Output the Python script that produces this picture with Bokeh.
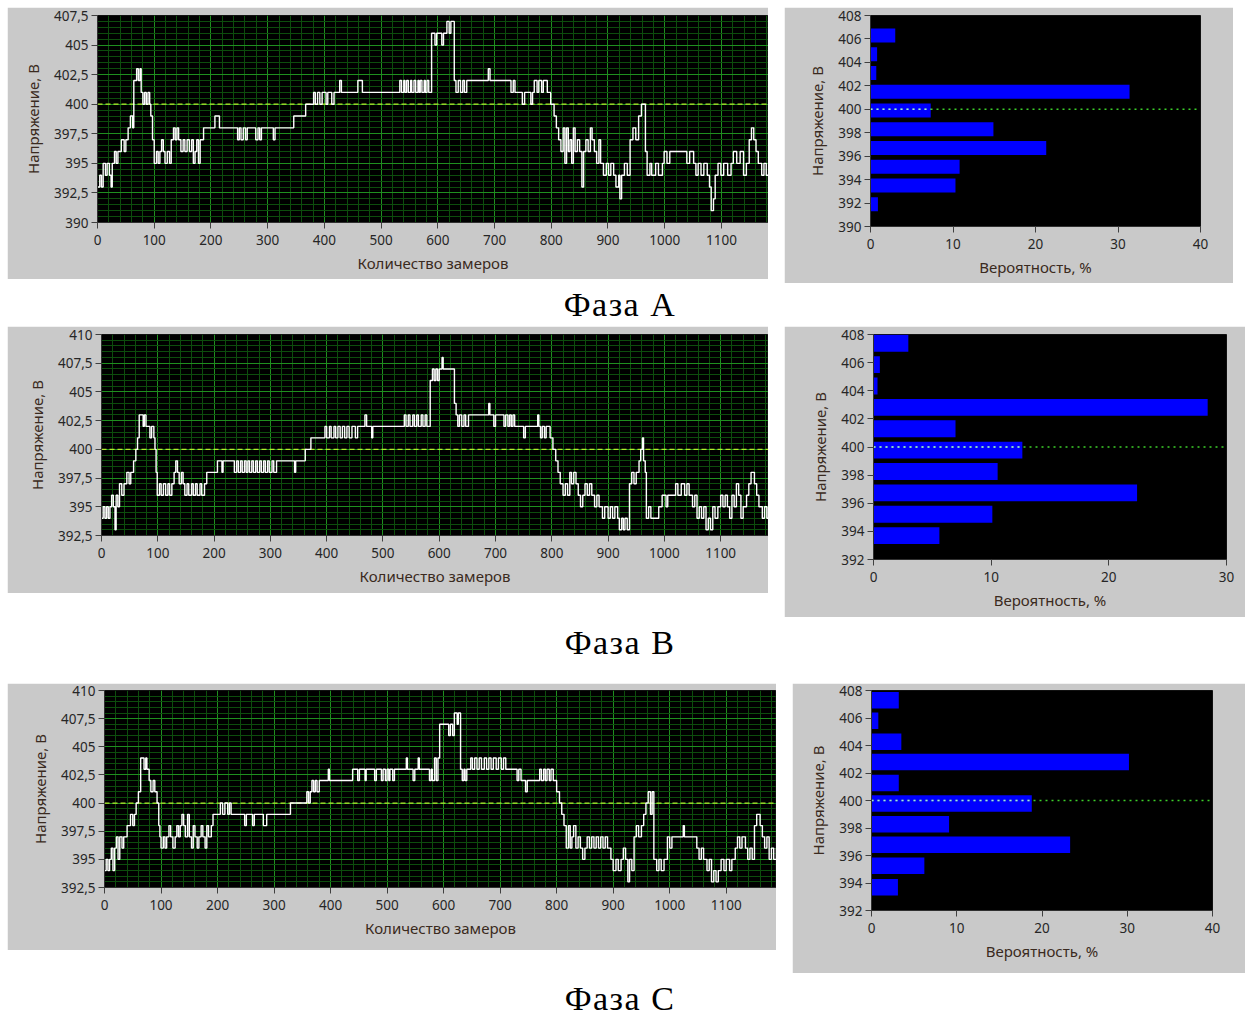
import numpy as np
from bokeh.plotting import figure
from bokeh.models import Range1d, FixedTicker, ColumnDataSource, Div, Spacer
from bokeh.layouts import column, row
from bokeh.embed import file_html
from bokeh.resources import INLINE

# ---------------- data ----------------
# step series: (sample number, voltage level)
A_STEPS = [(0,393),(4,394),(7,393),(10,395),(14,394),(17,395),(21,394),(24,393),(26,395),(30,396),
           (33,395),(36,396),(42,397),(47,396),(50,397),(54,398),(58,399),(62,398),(64,402),(69,403),
           (72,402),(75,403),(77,401),(80,400),(83,401),(86,400),(89,401),(92,400),(94,399),(97,397),
           (100,395),(104,396),(107,395),(110,396),(113,397),(116,396),(119,395),(123,396),(127,395),(130,397),
           (134,398),(137,397),(140,398),(143,397),(147,396),(151,397),(154,396),(158,397),(162,396),(166,397),
           (169,395),(172,396),(175,397),(178,395),(181,397),(187,398),(207,399),(215,398),(247,397),(250,398),
           (253,397),(257,398),(261,397),(264,398),(279,397),(283,398),(286,397),(289,398),(310,397),(313,398),
           (346,399),(367,400),(381,401),(384,400),(388,401),(392,400),(396,401),(403,400),(406,401),(413,400),
           (417,401),(427,402),(430,401),(459,402),(467,401),(533,402),(536,401),(540,402),(542,401),(545,402),
           (548,401),(552,402),(554,401),(558,402),(561,401),(565,402),(567,401),(569,402),(572,401),(576,402),
           (578,401),(581,402),(584,401),(589,406),(595,405),(598,406),(607,405),(610,406),(616,407),(620,406),
           (623,407),(629,402),(632,401),(636,402),(640,401),(644,402),(647,401),(651,402),(689,403),(692,402),
           (729,401),(733,402),(736,401),(749,400),(753,401),(764,400),(767,401),(770,402),(775,401),(778,402),
           (783,401),(786,402),(793,401),(799,400),(805,399),(809,398),(813,397),(817,396),(821,398),(824,395),
           (827,398),(830,396),(833,397),(836,395),(839,398),(842,396),(846,397),(850,396),(854,393),(857,396),
           (861,397),(865,396),(869,398),(872,397),(876,396),(880,395),(884,397),(887,395),(892,394),(897,395),
           (901,394),(905,395),(910,394),(914,393),(919,394),(921,392),(924,394),(929,395),(934,394),(939,397),
           (944,398),(949,397),(954,399),(959,400),(966,396),(969,394),(974,395),(977,394),(984,395),(989,394),
           (996,395),(999,396),(1004,395),(1009,396),(1039,395),(1044,396),(1051,395),(1055,394),(1059,395),(1064,394),
           (1069,395),(1075,394),(1079,393),(1082,391),(1086,392),(1089,394),(1094,395),(1099,394),(1104,395),(1111,394),
           (1117,395),(1121,396),(1127,395),(1133,396),(1139,394),(1144,395),(1149,397),(1153,398),(1157,397),(1161,396),
           (1165,395),(1171,394),(1175,395),(1179,394),(1185,394)]

B_STEPS = [(0,394),(3,395),(6,394),(9,395),(12,394),(15,395),(18,396),(21,395),(24,393),(26,396),
           (29,395),(32,397),(36,396),(40,397),(45,398),(49,397),(52,398),(57,399),(61,400),(64,401),
           (67,403),(74,402),(76,403),(79,402),(86,401),(89,402),(93,401),(95,400),(97,398),(99,396),
           (103,397),(106,396),(110,397),(114,396),(118,397),(121,396),(125,397),(129,398),(132,399),(135,398),
           (138,397),(142,398),(145,397),(148,396),(152,397),(155,396),(160,397),(163,396),(167,397),(170,396),
           (175,397),(178,396),(183,397),(187,398),(206,399),(214,398),(216,399),(236,398),(240,399),(243,398),
           (247,399),(250,398),(254,399),(257,398),(260,399),(263,398),(267,399),(270,398),(274,399),(277,398),
           (281,399),(284,398),(288,399),(291,398),(295,399),(298,398),(303,399),(306,398),(311,399),(343,398),
           (345,399),(362,400),(372,401),(397,402),(400,401),(405,402),(408,401),(413,402),(416,401),(420,402),
           (424,401),(428,402),(432,401),(436,402),(440,401),(445,402),(451,401),(455,402),(468,403),(471,402),
           (480,401),(482,402),(538,403),(541,402),(545,403),(548,402),(553,403),(556,402),(560,403),(563,402),
           (568,403),(571,402),(575,403),(578,402),(584,406),(588,407),(591,406),(594,407),(597,406),(600,407),
           (605,408),(607,407),(627,404),(630,403),(633,402),(636,403),(640,402),(644,403),(647,402),(652,403),
           (688,404),(690,403),(697,402),(700,403),(715,402),(718,403),(722,402),(725,403),(728,402),(731,403),
           (734,402),(750,401),(753,402),(775,403),(777,402),(780,401),(783,402),(787,401),(790,402),(797,401),
           (802,400),(807,399),(811,398),(815,397),(820,396),(824,397),(828,396),(832,398),(835,397),(839,398),
           (843,397),(847,396),(851,395),(855,396),(859,397),(863,396),(867,397),(871,396),(876,395),(880,396),
           (884,395),(890,394),(894,395),(900,394),(904,395),(908,394),(912,395),(917,394),(920,393),(924,394),
           (927,393),(930,394),(934,393),(938,397),(942,398),(946,397),(950,398),(955,399),(958,400),(961,401),
           (963,399),(966,398),(968,394),(972,395),(976,394),(990,395),(996,396),(1003,395),(1006,396),(1020,397),
           (1024,396),(1030,397),(1036,396),(1040,397),(1044,396),(1050,395),(1054,396),(1058,394),(1062,395),(1066,394),
           (1070,395),(1074,393),(1078,394),(1082,393),(1086,395),(1090,394),(1095,395),(1100,396),(1104,395),(1108,396),
           (1112,395),(1116,394),(1120,396),(1124,395),(1128,397),(1132,396),(1136,394),(1140,395),(1146,396),(1150,397),
           (1154,398),(1160,397),(1164,396),(1168,395),(1174,394),(1178,395),(1182,394),(1185,395)]

C_STEPS = [(0,394),(3,395),(6,394),(9,395),(12,396),(15,394),(18,396),(21,397),(24,395),(27,397),
           (31,396),(34,397),(40,398),(46,399),(50,398),(53,399),(56,400),(60,401),(64,404),(70,403),
           (73,404),(75,403),(79,402),(82,401),(86,402),(89,401),(93,400),(96,398),(98,397),(100,396),
           (104,397),(107,396),(110,397),(114,398),(117,397),(121,396),(125,397),(128,398),(131,397),(134,398),
           (137,399),(140,398),(143,397),(147,399),(150,397),(154,396),(157,398),(160,397),(164,396),(167,397),
           (171,398),(174,397),(178,396),(181,398),(184,397),(189,398),(192,399),(205,400),(209,399),(213,400),
           (218,399),(221,400),(224,399),(248,398),(251,399),(262,398),(265,399),(281,398),(287,399),(329,400),
           (358,401),(361,400),(364,401),(367,402),(370,401),(373,402),(376,401),(380,402),(396,403),(398,402),
           (439,403),(448,402),(451,403),(461,402),(463,403),(478,402),(481,403),(490,402),(493,403),(497,402),
           (500,403),(503,402),(505,403),(510,402),(513,403),(534,404),(536,403),(546,402),(549,403),(555,404),
           (557,403),(575,402),(578,403),(580,402),(584,404),(587,402),(590,404),(593,407),(609,406),(612,407),
           (616,406),(619,408),(624,407),(626,408),(630,403),(633,402),(636,403),(638,402),(641,403),(648,404),
           (651,403),(655,404),(659,403),(663,404),(667,403),(672,404),(676,403),(680,404),(684,403),(688,404),
           (693,403),(697,404),(702,403),(706,404),(710,403),(730,402),(733,403),(737,402),(745,401),(748,402),
           (770,403),(773,402),(777,403),(780,402),(783,403),(787,402),(790,403),(794,402),(800,401),(805,400),
           (809,399),(813,398),(817,396),(821,398),(824,396),(827,397),(830,398),(834,396),(838,397),(842,396),
           (846,395),(850,396),(854,397),(858,396),(862,397),(866,396),(870,397),(874,396),(878,397),(882,396),
           (886,397),(890,396),(896,395),(900,394),(905,395),(909,394),(914,395),(918,396),(922,395),(926,393),
           (929,395),(933,394),(937,397),(941,398),(945,397),(950,398),(954,399),(958,400),(962,401),(966,399),
           (969,401),(972,395),(977,394),(981,395),(985,394),(990,395),(996,397),(1000,396),(1004,397),(1024,398),
           (1026,397),(1048,396),(1052,395),(1056,396),(1060,395),(1066,394),(1070,395),(1074,393),(1078,394),(1082,393),
           (1086,394),(1091,395),(1096,394),(1100,395),(1106,394),(1110,395),(1116,396),(1120,397),(1124,396),(1128,397),
           (1134,396),(1138,395),(1142,396),(1146,395),(1150,398),(1154,399),(1160,398),(1164,397),(1168,396),(1172,397),
           (1176,395),(1180,396),(1184,395),(1189,396)]

# histograms: bin centre voltage and probability, %
A_HIST_V = [391.9, 393.5, 395.1, 396.7, 398.3, 399.9, 401.5, 403.1, 404.7, 406.3]
A_HIST_P = [0.9, 10.3, 10.8, 21.3, 14.9, 7.3, 31.4, 0.7, 0.8, 3.0]
B_HIST_V = [393.7, 395.22, 396.74, 398.26, 399.78, 401.3, 402.82, 404.34, 405.86, 407.38]
B_HIST_P = [5.6, 10.1, 22.4, 10.55, 12.65, 6.97, 28.4, 0.34, 0.54, 2.96]
C_HIST_V = [393.7, 395.26, 396.78, 398.28, 399.78, 401.28, 402.8, 404.27, 405.8, 407.29]
C_HIST_P = [3.1, 6.2, 23.3, 9.1, 18.8, 3.2, 30.2, 3.5, 0.8, 3.2]

NOMINAL = 400

X_TICKS = [0, 100, 200, 300, 400, 500, 600, 700, 800, 900, 1000, 1100, 1200]
X_LABELS = ["0", "100", "200", "300", "400", "500", "600", "700", "800", "900", "1000", "1100", "1200"]
A_Y_TICKS = [390, 392.5, 395, 397.5, 400, 402.5, 405, 407.5]
A_Y_LABELS = ["390", "392,5", "395", "397,5", "400", "402,5", "405", "407,5"]
BC_Y_TICKS = [392.5, 395, 397.5, 400, 402.5, 405, 407.5, 410]
BC_Y_LABELS = ["392,5", "395", "397,5", "400", "402,5", "405", "407,5", "410"]
HA_Y_TICKS = [390, 392, 394, 396, 398, 400, 402, 404, 406, 408]
HBC_Y_TICKS = [392, 394, 396, 398, 400, 402, 404, 406, 408]
H40_X_TICKS = [0, 10, 20, 30, 40]
H30_X_TICKS = [0, 10, 20, 30]

Y_TITLE = "Напряжение, В"
X_TITLE_LINE = "Количество замеров"
X_TITLE_HIST = "Вероятность, %"
CAPTIONS = ["Фаза A", "Фаза B", "Фаза C"]

# ---------------- styling ----------------
GRAY = "#c9c9c9"
MAJOR = "#1f8f1f"
MINOR = "#0d4d0d"
FONT = "Noto Sans"
TICK_COLOR = "#262626"
TITLE_COLOR = "#3a2a20"


def style_axes(p, xticks, yticks, xminor=(), yminor=(), xlabels=None, ylabels=None):
    p.xaxis.ticker = FixedTicker(ticks=list(xticks), minor_ticks=list(xminor))
    p.yaxis.ticker = FixedTicker(ticks=list(yticks), minor_ticks=list(yminor))
    xlabels = xlabels or [str(t) for t in xticks]
    ylabels = ylabels or [str(t) for t in yticks]
    p.xaxis.major_label_overrides = {float(t): l for t, l in zip(xticks, xlabels)}
    p.yaxis.major_label_overrides = {float(t): l for t, l in zip(yticks, ylabels)}
    for ax in list(p.xaxis) + list(p.yaxis):
        ax.major_label_text_font = FONT
        ax.major_label_text_font_size = "13.5px"
        ax.major_label_text_color = TICK_COLOR
        ax.axis_label_text_font = FONT
        ax.axis_label_text_font_size = "15px"
        ax.axis_label_text_font_style = "normal"
        ax.axis_label_text_color = TITLE_COLOR
        ax.axis_line_color = "#303030"
        ax.major_tick_line_color = "#404040"
        ax.minor_tick_line_color = None
        ax.major_tick_in = 0
        ax.major_tick_out = 6
    p.xaxis.major_label_standoff = 6
    p.yaxis.major_label_standoff = 3
    p.xaxis.axis_label_standoff = 5
    p.yaxis.axis_label_standoff = 8


def line_panel(steps, xmax, ylo, yhi, yticks, ylabels, w, h, bl, bt, bb):
    xs = [s[0] for s in steps]
    vs = [s[1] for s in steps]
    p = figure(width=w, height=h, x_range=Range1d(0, xmax), y_range=Range1d(ylo, yhi),
               output_backend="svg", toolbar_location=None,
               min_border_left=bl, min_border_right=0, min_border_top=bt, min_border_bottom=bb)
    p.background_fill_color = "black"
    p.border_fill_color = GRAY
    p.outline_line_color = "#111111"
    style_axes(p, X_TICKS, yticks, np.arange(0, 1201, 20), np.arange(ylo, yhi + 0.01, 0.5),
               X_LABELS, ylabels)
    p.xgrid.grid_line_color = MAJOR
    p.ygrid.grid_line_color = MAJOR
    p.xgrid.minor_grid_line_color = MINOR
    p.ygrid.minor_grid_line_color = MINOR
    p.xaxis.axis_label = X_TITLE_LINE
    p.yaxis.axis_label = Y_TITLE
    p.line(x=[0, xmax], y=[NOMINAL, NOMINAL], line_color="#b4ec2c", line_dash="5 3", line_width=1.3)
    p.step(x=xs, y=vs, mode="after", line_color="white", line_width=1.4)
    return p


def hist_panel(hv, hp, xmax, ylo, yhi, yticks, xticks, w, h, bl, br, bt, bb):
    p = figure(width=w, height=h, x_range=Range1d(0, xmax), y_range=Range1d(ylo, yhi),
               output_backend="svg", toolbar_location=None,
               min_border_left=bl, min_border_right=br, min_border_top=bt, min_border_bottom=bb)
    p.background_fill_color = "black"
    p.border_fill_color = GRAY
    p.outline_line_color = "#111111"
    style_axes(p, xticks, yticks)
    p.grid.visible = False
    p.xaxis.axis_label = X_TITLE_HIST
    p.yaxis.axis_label = Y_TITLE
    src = ColumnDataSource(dict(v=hv, p=hp))
    p.hbar(y="v", left=0, right="p", height=1.2, source=src, fill_color="#0000ff", line_color=None)
    p.line(x=[0, xmax], y=[NOMINAL, NOMINAL], line_color="#3ccf2a", line_dash="2 4", line_width=1.5)
    i = int(np.argmin(np.abs(np.array(hv) - NOMINAL)))
    p.line(x=[0, hp[i]], y=[NOMINAL, NOMINAL], line_color="#a8d8ff", line_dash="2 4", line_width=1.5)
    return p


def caption(text, w, h, pad):
    html = ('<div style="width:%dpx;height:%dpx;overflow:hidden;text-align:center;'
            'font-family:\'Liberation Serif\',\'Times New Roman\',serif;font-size:34px;'
            'letter-spacing:1.5px;line-height:36px;color:#000;">'
            '<div style="padding-top:%dpx">%s</div></div>'
            % (w, h, pad, text))
    return Div(text=html, width=w, height=h, margin=0)


LA = line_panel(A_STEPS, 1183, 390, 407.5, A_Y_TICKS, A_Y_LABELS, 761, 272, 90, 8, 55)
HA = hist_panel(A_HIST_V, A_HIST_P, 40, 390, 408, HA_Y_TICKS, H40_X_TICKS, 449, 276, 86, 33, 7, 57)
LB = line_panel(B_STEPS, 1185, 392.5, 410, BC_Y_TICKS, BC_Y_LABELS, 761, 267, 94, 7, 54)
HB = hist_panel(B_HIST_V, B_HIST_P, 30, 392, 408, HBC_Y_TICKS, H30_X_TICKS, 461, 291, 89, 19, 8, 58)
LC = line_panel(C_STEPS, 1189, 392.5, 410, BC_Y_TICKS, BC_Y_LABELS, 769, 267, 97, 7, 50)
HC = hist_panel(C_HIST_V, C_HIST_P, 40, 392, 408, HBC_Y_TICKS, H40_X_TICKS, 453, 290, 79, 33, 7, 63)

layout = column(
    row(LA, Spacer(width=16, height=10, margin=0), HA, spacing=0),
    caption(CAPTIONS[0], 1226, 43, 4),
    row(LB, Spacer(width=16, height=10, margin=0), HB, spacing=0),
    caption(CAPTIONS[1], 1226, 66, 8),
    row(LC, Spacer(width=16, height=10, margin=0), HC, spacing=0),
    caption(CAPTIONS[2], 1226, 44, 8),
    spacing=0,
    margin=(7, 0, 0, 7),
)

open("out.html", "w").write(file_html(layout, INLINE))
